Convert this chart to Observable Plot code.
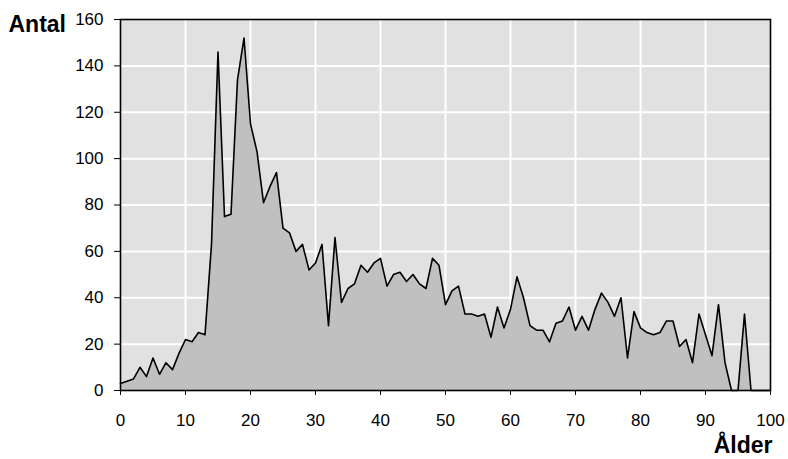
<!DOCTYPE html>
<html>
<head>
<meta charset="utf-8">
<script src="https://cdn.jsdelivr.net/npm/d3@7"></script>
<script src="https://cdn.jsdelivr.net/npm/@observablehq/plot@0.6"></script>
<style>
  html, body { margin: 0; padding: 0; background: #ffffff; }
  #chart svg { display: block; }
</style>
</head>
<body>
<div id="chart"></div>
<script>
const ages = [0,1,2,3,4,5,6,7,8,9,10,11,12,13,14,15,16,17,18,19,20,21,22,23,24,25,26,27,28,29,30,31,32,33,34,35,36,37,38,39,40,41,42,43,44,45,46,47,48,49,50,51,52,53,54,55,56,57,58,59,60,61,62,63,64,65,66,67,68,69,70,71,72,73,74,75,76,77,78,79,80,81,82,83,84,85,86,87,88,89,90,91,92,93,94,95,96,97,98,99,100];
const counts = [3,4,5,10,6,14,7,12,9,16,22,21,25,24,63,146,75,76,134,152,115,103,81,88,94,70,68,60,63,52,55,63,28,66,38,44,46,54,51,55,57,45,50,51,47,50,46,44,57,54,37,43,45,33,33,32,33,23,36,27,35,49,40,28,26,26,21,29,30,36,26,32,26,35,42,38,32,40,14,34,27,25,24,25,30,30,19,22,12,33,24,15,37,12,0,0,33,0,0,0,0];
const xTicks = [0,10,20,30,40,50,60,70,80,90,100];
const yTicks = [0,20,40,60,80,100,120,140,160];
const yLabel = "Antal";
const xLabel = "Ålder";

const data = ages.map((a, i) => ({age: a, n: counts[i]}));

const chart = Plot.plot({
  width: 788,
  height: 459,
  marginLeft: 120,
  marginRight: 18,
  marginTop: 19,
  marginBottom: 69,
  style: {fontFamily: "Arial, 'Liberation Sans', sans-serif", fontSize: "17px", color: "#000", background: "#fff"},
  x: {domain: [0, 100]},
  y: {domain: [0, 160]},
  marks: [
    Plot.frame({fill: "#e1e1e1", stroke: null}),
    Plot.gridX(xTicks.filter(d => d > 0 && d < 100), {stroke: "#ffffff", strokeOpacity: 1, strokeWidth: 2}),
    Plot.gridY(yTicks.filter(d => d > 0 && d < 160), {stroke: "#ffffff", strokeOpacity: 1, strokeWidth: 2}),
    Plot.areaY(data, {x: "age", y: "n", fill: "#c0c0c0"}),
    Plot.lineY(data, {x: "age", y: "n", stroke: "#000", strokeWidth: 1.6}),
    Plot.frame({stroke: "#000", strokeWidth: 1.6}),
    Plot.axisX({ticks: xTicks, tickSize: 5, tickPadding: 18, fontSize: 17, label: null, tickFormat: d => String(d)}),
    Plot.axisY({ticks: yTicks, tickSize: 6, tickPadding: 11, fontSize: 17, label: null, tickFormat: d => String(d)}),
    Plot.text([yLabel], {frameAnchor: "top-left", text: d => d, textAnchor: "start", lineAnchor: "middle", dx: -112, dy: 5, fontSize: 23, fontWeight: "bold"}),
    Plot.text([xLabel], {frameAnchor: "bottom-right", text: d => d, textAnchor: "end", lineAnchor: "middle", dx: 2, dy: 55, fontSize: 23, fontWeight: "bold"})
  ]
});
document.getElementById("chart").appendChild(chart);
</script>
</body>
</html>
